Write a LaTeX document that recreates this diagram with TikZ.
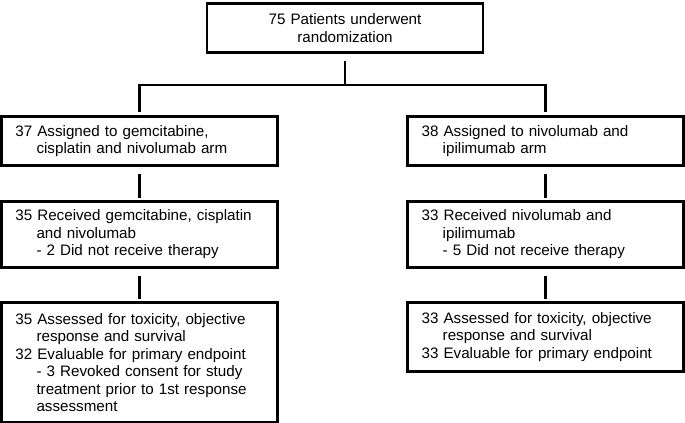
\documentclass[tikz,border=0pt]{standalone}
\usepackage{fontspec}
\setmainfont{Liberation Sans}
\usetikzlibrary{positioning}
\newcommand{\hgap}{\hspace*{1.39em}}

\begin{document}
\begin{tikzpicture}[
                    box/.style={draw, line width=2pt, inner xsep=0.35cm, inner ysep=0pt,
                                text width=6.2cm, align=left,
                                font=\fontsize{10.8}{12.45}\selectfont},
                    link/.style={line width=2pt},
                   ]

\useasboundingbox (0,0) rectangle (17.125,-10.55);

% randomization
\node[box, align=center, anchor=north, minimum height=1.225cm] (rand) at (8.625,-0.05)
     {75 Patients underwent\\randomization};

% gemcitabine, cisplatin and nivolumab arm
\node[box, anchor=north, minimum height=1.225cm] (gcnAssign) at (3.485,-2.875)
     {37 Assigned to gemcitabine,\\\hgap cisplatin and nivolumab arm};
\node[box, anchor=north, minimum height=1.65cm] (gcnRecv) at (3.485,-5.0)
     {35 Received gemcitabine, cisplatin\\\hgap and nivolumab\\\hgap - 2 Did not receive therapy};
\node[box, anchor=north, minimum height=3.0cm] (gcnEval) at (3.485,-7.525)
     {35 Assessed for toxicity, objective\\\hgap response and survival\\32 Evaluable for primary endpoint\\\hgap - 3 Revoked consent for study\\\hgap treatment prior to 1st response\\\hgap assessment};

% nivolumab and ipilimumab arm
\node[box, anchor=north, minimum height=1.225cm] (niAssign) at (13.64,-2.875)
     {38 Assigned to nivolumab and\\\hgap ipilimumab arm};
\node[box, anchor=north, minimum height=1.65cm] (niRecv) at (13.64,-5.0)
     {33 Received nivolumab and\\\hgap ipilimumab\\\hgap - 5 Did not receive therapy};
\node[box, anchor=north, minimum height=1.725cm] (niEval) at (13.64,-7.525)
     {33 Assessed for toxicity, objective\\\hgap response and survival\\33 Evaluable for primary endpoint};

% connectors
\coordinate (split) at (8.625,-2.125);
\draw[link, shorten <=0.175cm] (rand.south) -- (split);
\draw[link, shorten >=0.075cm] (split) -| (gcnAssign.north);
\draw[link, shorten >=0.075cm] (split) -| (niAssign.north);

\draw[link, shorten <=0.175cm, shorten >=0.05cm] (gcnAssign.south) -- (gcnRecv.north);
\draw[link, shorten <=0.175cm, shorten >=0.05cm] (gcnRecv.south) -- (gcnEval.north);
\draw[link, shorten <=0.175cm, shorten >=0.05cm] (niAssign.south) -- (niRecv.north);
\draw[link, shorten <=0.175cm, shorten >=0.05cm] (niRecv.south) -- (niEval.north);

\end{tikzpicture}
\end{document}
